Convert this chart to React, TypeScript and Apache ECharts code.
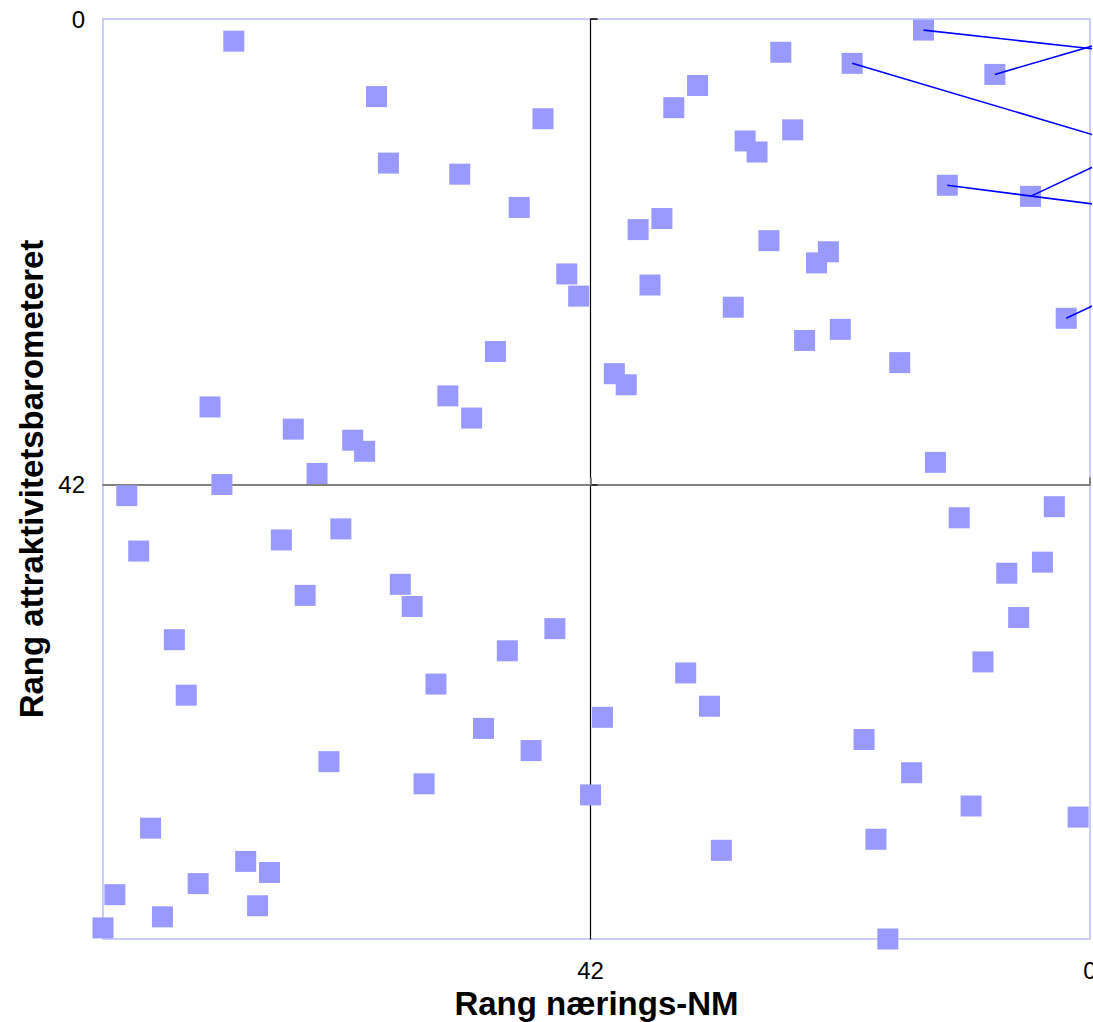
import React, { useEffect, useRef } from "react";
import * as echarts from "echarts";

// Rang nærings-NM (x) and Rang attraktivitetsbarometeret (y) per municipality/region
const xRank = [
  14, 72, 26, 20, 8, 33, 60, 35, 46, 25,
  29, 28, 59, 53, 12, 5, 48, 36, 38, 27,
  22, 23, 44, 37, 43, 30, 2, 21, 24, 50,
  16, 40, 39, 54, 74, 52, 67, 62, 61, 13,
  65, 73, 81, 3, 11, 63, 68, 80, 4, 7,
  58, 66, 57, 6, 45, 77, 49, 9, 34, 55,
  76, 32, 41, 51, 19, 47, 64, 15, 56, 42,
  10, 1, 79, 18, 31, 71, 69, 75, 82, 70,
  78, 83, 17,
];
const yRank = [
  1, 2, 3, 4, 5, 6, 7, 8, 9, 10,
  11, 12, 13, 14, 15, 16, 17, 18, 19, 20,
  21, 22, 23, 24, 25, 26, 27, 28, 29, 30,
  31, 32, 33, 34, 35, 36, 37, 38, 39, 40,
  41, 42, 43, 44, 45, 46, 47, 48, 49, 50,
  51, 52, 53, 54, 55, 56, 57, 58, 59, 60,
  61, 62, 63, 64, 65, 66, 67, 68, 69, 70,
  71, 72, 73, 74, 75, 76, 77, 78, 79, 80,
  81, 82, 83,
];
const xTicks = [0, 42];
const yTicks = [0, 42];
const axisMax = 83;
const crossAt = 42;

// leader lines: point index -> label anchor (labels sit outside the picture, to the right)
const leaderPoint = [0, 4, 3, 14, 15, 26];
const leaderLabelX = [-0.3, -0.3, -0.3, -0.3, -0.3, -0.3];
const leaderLabelY = [2.7, 2.41, 10.46, 16.7, 13.31, 25.84];

const W = 1093;
const H = 1022;
const G = { left: 103, right: 3, top: 19, bottom: 83 };
const FONT = "'Liberation Sans', Arial, Helvetica, sans-serif";

export default function App() {
  const ref = useRef<HTMLDivElement>(null);
  useEffect(() => {
    if (!ref.current) return;
    const chart = echarts.init(ref.current, undefined, { renderer: "svg" });
    const plotW = W - G.left - G.right;
    const plotH = H - G.top - G.bottom;
    const yAxisOffset = -(plotW * (axisMax - crossAt)) / axisMax;
    const xAxisOffset = -(plotH * (axisMax - crossAt)) / axisMax;

    const tickFmt = (ticks: number[]) => (v: number) =>
      ticks.indexOf(v) >= 0 ? String(v) : "";

    const points = xRank.map((x, i) => [x, yRank[i]]);
    const leaders = leaderPoint.map((pi, k) => ({
      type: "line",
      data: [
        [xRank[pi], yRank[pi]],
        [leaderLabelX[k], leaderLabelY[k]],
      ],
      symbol: "none",
      clip: false,
      silent: true,
      z: 5,
      lineStyle: { color: "#0000ff", width: 1.6 },
    }));

    const baseAxis = {
      type: "value",
      min: 0,
      max: axisMax,
      interval: 42,
      inverse: true,
      splitLine: { show: false },
    };

    chart.setOption({
      animation: false,
      backgroundColor: "#ffffff",
      grid: {
        left: G.left,
        right: G.right,
        top: G.top,
        bottom: G.bottom,
        show: true,
        borderColor: "#ccccff",
        borderWidth: 2,
        backgroundColor: "transparent",
        outerBoundsMode: "none",
        containLabel: false,
      },
      xAxis: [
        {
          ...baseAxis,
          position: "bottom",
          axisLine: { show: false, onZero: false },
          axisTick: { show: false },
          axisLabel: {
            customValues: xTicks,
            formatter: tickFmt(xTicks),
            fontSize: 24,
            lineHeight: 24,
            color: "#000",
            fontFamily: FONT,
            margin: 19,
          },
          name: "Rang nærings-NM",
          nameLocation: "middle",
          nameGap: 47.5,
          nameMoveOverlap: false,
          nameTextStyle: {
            fontSize: 33,
            lineHeight: 33,
            fontWeight: "bold",
            color: "#000",
            fontFamily: FONT,
          },
        },
        {
          ...baseAxis,
          position: "bottom",
          offset: xAxisOffset,
          axisLine: {
            show: true,
            onZero: false,
            lineStyle: { color: "#808080", width: 2 },
          },
          axisTick: {
            show: true,
            inside: true,
            length: 7,
            customValues: xTicks,
            lineStyle: { color: "#808080", width: 2 },
          },
          axisLabel: { show: false },
        },
      ],
      yAxis: [
        {
          ...baseAxis,
          position: "left",
          axisLine: { show: false, onZero: false },
          axisTick: { show: false },
          axisLabel: {
            customValues: yTicks,
            formatter: tickFmt(yTicks),
            fontSize: 24,
            color: "#000",
            fontFamily: FONT,
            margin: 18,
          },
          name: "Rang attraktivitetsbarometeret",
          nameLocation: "middle",
          nameGap: 55,
          nameMoveOverlap: false,
          nameTextStyle: {
            fontSize: 33,
            fontWeight: "bold",
            color: "#000",
            fontFamily: FONT,
          },
        },
        {
          ...baseAxis,
          position: "left",
          offset: yAxisOffset,
          axisLine: {
            show: true,
            onZero: false,
            lineStyle: { color: "#000000", width: 1.2 },
          },
          axisTick: {
            show: true,
            inside: true,
            length: 7,
            customValues: yTicks,
            lineStyle: { color: "#333333", width: 2 },
          },
          axisLabel: { show: false },
        },
      ],
      series: [
        {
          type: "scatter",
          data: points,
          symbol: "rect",
          symbolSize: 21,
          clip: false,
          z: 3,
          itemStyle: { color: "#9999ff", opacity: 1 },
        },
        ...leaders,
      ],
    });
    return () => chart.dispose();
  }, []);
  return (
    <div
      ref={ref}
      style={{ position: "absolute", left: 0, top: 0, width: W, height: H }}
    />
  );
}
